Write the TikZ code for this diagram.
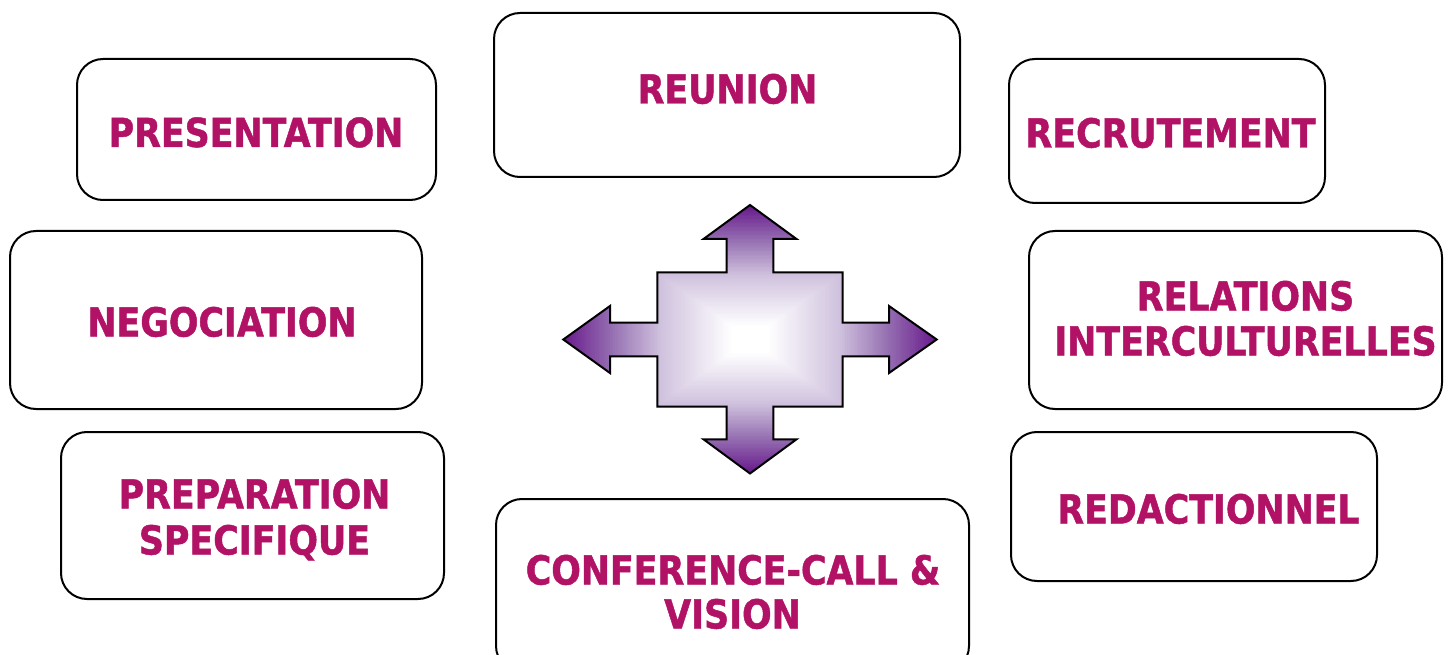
\documentclass[tikz,border=0pt]{standalone}
\usepackage{fontspec}
\newfontfamily\lblfont{DejaVu Sans}[FakeStretch=0.87, BoldFeatures={FakeBold=1.2}]
\definecolor{txtmag}{RGB}{178,18,102}
\definecolor{arrpurple}{RGB}{104,26,140}
\definecolor{arrmid}{RGB}{150,112,178}
\definecolor{arrlav}{RGB}{208,194,222}
\tikzset{
  box/.style={draw=black, line width=2pt, rounded corners=26pt, inner sep=0pt, fill=white},
  lbl/.style={font=\lblfont\bfseries\fontsize{40}{46}\selectfont, text=txtmag, anchor=base, inner sep=0pt},
  cross/.style={draw=black, line width=2pt, line join=miter}
}
\def\crossoutline{(750,205) -- (796.5,239) -- (773.3,239) -- (773.3,272.3) -- (842.7,272.3) -- (842.7,322.7)
  -- (889,322.7) -- (889,306) -- (936.7,339.5) -- (889,373) -- (889,356.3) -- (842.7,356.3)
  -- (842.7,406.7) -- (773.3,406.7) -- (773.3,439.3) -- (796.5,439.3) -- (750,473.5)
  -- (703.5,439.3) -- (726.7,439.3) -- (726.7,406.7) -- (657.3,406.7) -- (657.3,356.3)
  -- (610,356.3) -- (610,373) -- (563.3,339.5) -- (610,306) -- (610,322.7) -- (657.3,322.7)
  -- (657.3,272.3) -- (726.7,272.3) -- (726.7,239) -- (703.5,239) -- cycle}
\begin{document}
\begin{tikzpicture}[x=1pt,y=-1pt]
\useasboundingbox (0,0) rectangle (1449,655);
% boxes
\node[box, minimum width=359pt, minimum height=141pt] (pres) at (256.5,129.5) {};
\node[box, minimum width=466pt, minimum height=164pt] (reun) at (727,95) {};
\node[box, minimum width=316pt, minimum height=144pt] (recr) at (1167,131) {};
\node[box, minimum width=412pt, minimum height=178pt] (nego) at (216,320) {};
\node[box, minimum width=413pt, minimum height=178pt] (rel) at (1235.5,320) {};
\node[box, minimum width=383pt, minimum height=167pt] (prep) at (252.5,515.5) {};
\node[box, minimum width=366pt, minimum height=149pt] (reda) at (1194,506.5) {};
\node[box, minimum width=473pt, minimum height=173pt] (conf) at (732.5,585.5) {};
% labels
\node[lbl] (t-pres) at (256,147) {PRESENTATION};
\node[lbl] (t-reun) at (727.5,103.5) {REUNION};
\node[lbl] (t-recr) at (1170.5,147.5) {RECRUTEMENT};
\node[lbl] (t-nego) at (222,336.5) {NEGOCIATION};
\node[lbl] (t-rel1) at (1245.5,310.5) {RELATIONS};
\node[lbl] (t-rel2) at (1245.5,355.5) {INTERCULTURELLES};
\node[lbl] (t-prep1) at (254.5,508.5) {PREPARATION};
\node[lbl] (t-prep2) at (254.5,554.5) {SPECIFIQUE};
\node[lbl] (t-reda) at (1208.5,523.5) {REDACTIONNEL};
\node[lbl] (t-conf1) at (733,584.5) {CONFERENCE-CALL \&};
\node[lbl] (t-conf2) at (732.5,628.5) {VISION};
% central four-way arrow with a rectangular (shape) gradient
\begin{scope}
  \clip \crossoutline;
  \foreach \k in {100,99,...,1}{
    \pgfmathsetmacro\s{\k/100}
    \ifnum\k>74
      \pgfmathsetmacro\p{(\k-74)/26*100}
      \colorlet{cc}{arrpurple!\p!arrmid}
    \else\ifnum\k>48
      \pgfmathsetmacro\p{(\k-48)/26*100}
      \colorlet{cc}{arrmid!\p!arrlav}
    \else\ifnum\k>10
      \pgfmathsetmacro\p{(\k-10)/38*100}
      \colorlet{cc}{arrlav!\p!white}
    \else
      \colorlet{cc}{white}
    \fi\fi\fi
    \fill[cc] ({750-187*\s},{339.5-134*\s}) rectangle ({750+187*\s},{339.5+134*\s});
  }
\end{scope}
\draw[cross] \crossoutline;
\end{tikzpicture}
\end{document}
